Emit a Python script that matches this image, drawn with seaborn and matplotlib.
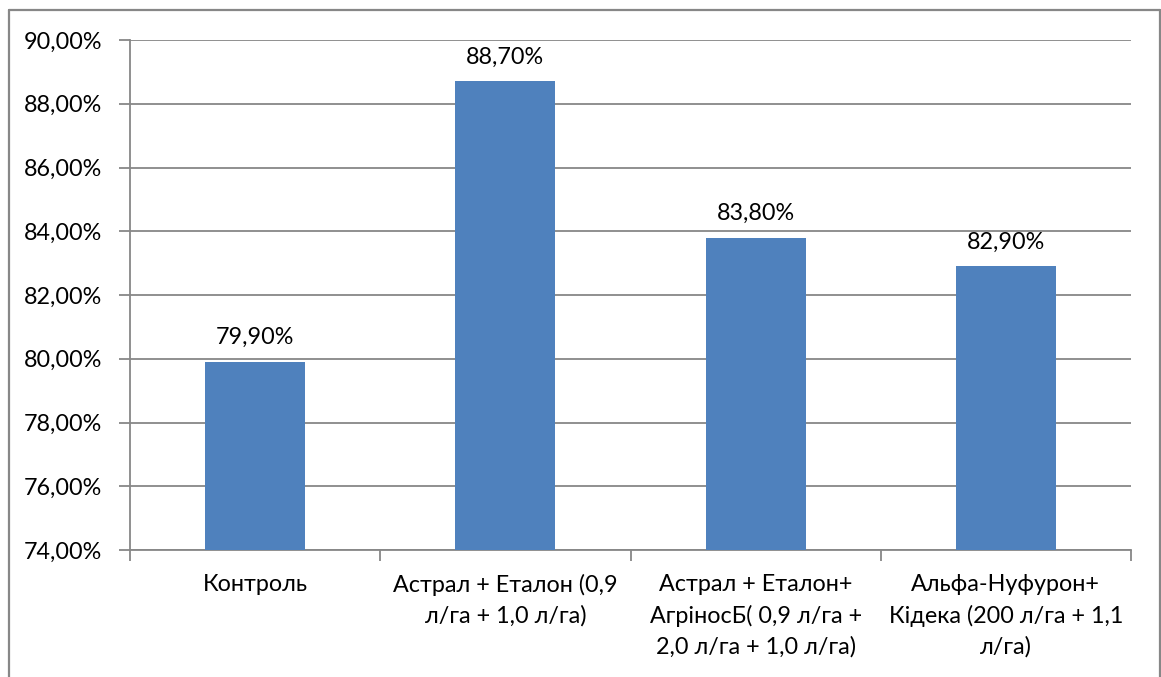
import matplotlib
matplotlib.use("Agg")
import matplotlib.pyplot as plt
from matplotlib.lines import Line2D
import seaborn as sns
import pandas as pd

categories = [
    "Контроль",
    "Астрал + Еталон (0,9 л/га + 1,0 л/га)",
    "Астрал + Еталон+ АгріносБ( 0,9 л/га + 2,0 л/га + 1,0 л/га)",
    "Альфа-Нуфурон+ Кідека (200 л/га + 1,1 л/га)",
]
tick_labels = [
    "Контроль",
    "Астрал + Еталон (0,9\nл/га + 1,0 л/га)",
    "Астрал + Еталон+\nАгріносБ( 0,9 л/га +\n2,0 л/га + 1,0 л/га)",
    "Альфа-Нуфурон+\nКідека (200 л/га + 1,1\nл/га)",
]
values = [79.90, 88.70, 83.80, 82.90]
y_ticks = [74, 76, 78, 80, 82, 84, 86, 88, 90]

sns.set_theme(style="white")
plt.rcParams["font.family"] = ["Lato", "DejaVu Sans"]

GRAY = "#878787"
BAR = "#4F81BD"
FS = 16.8

W, H = 1161, 677
fig = plt.figure(figsize=(W / 100, H / 100), dpi=100)
ax = fig.add_axes([130 / W, 1 - 550 / H, (1131 - 130) / W, (550 - 40) / H])

df = pd.DataFrame({"category": categories, "value": values})
sns.barplot(data=df, x="category", y="value", color=BAR, width=0.4,
            saturation=1, linewidth=0, ax=ax, zorder=3)

ax.set_ylim(74, 90)
ax.set_xlim(-0.5, len(categories) - 0.5)
ax.set_yticks(y_ticks)
ax.set_yticklabels([f"{v:.2f}%".replace(".", ",") for v in y_ticks], fontsize=FS, color="black")
ax.set_xticks(range(len(categories)))
ax.set_xticklabels(tick_labels, fontsize=FS, color="black", linespacing=1.55)
ax.set_xticks([i - 0.5 for i in range(len(categories) + 1)], minor=True)
ax.set_xlabel("")
ax.set_ylabel("")

ax.yaxis.grid(True, color=GRAY, linewidth=1.3, zorder=0)
ax.set_axisbelow(True)
ax.tick_params(axis="y", which="major", direction="out", length=8, width=1.3,
               color=GRAY, pad=12, left=True)
ax.tick_params(axis="x", which="major", length=0, pad=17)
ax.tick_params(axis="x", which="minor", direction="out", length=8, width=1.3,
               color=GRAY, bottom=True)

for side in ["top", "right"]:
    ax.spines[side].set_visible(False)
for side in ["left", "bottom"]:
    ax.spines[side].set_color(GRAY)
    ax.spines[side].set_linewidth(1.3)

for i, v in enumerate(values):
    ax.annotate(f"{v:.2f}%".replace(".", ","), (i, v), xytext=(0, 10),
                textcoords="offset points", ha="center", va="bottom",
                fontsize=FS, color="black")

# outer chart frame (open at the bottom)
fx0, fx1, fy = 8.5 / W, 1159.5 / W, 1 - 9.5 / H
for xs, ys in [((fx0, fx0), (0, fy)), ((fx0, fx1), (fy, fy)), ((fx1, fx1), (fy, 0))]:
    fig.add_artist(Line2D(xs, ys, color=GRAY, linewidth=1.6, transform=fig.transFigure))

fig.savefig("out.png", dpi=100, facecolor="white")
